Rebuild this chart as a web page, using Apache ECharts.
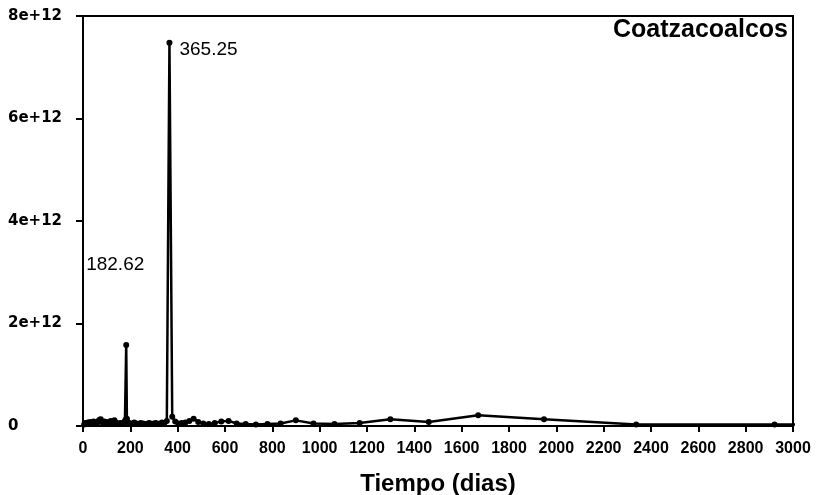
<!DOCTYPE html>
<html>
<head>
<meta charset="utf-8">
<script src="https://cdn.jsdelivr.net/npm/echarts@6/dist/echarts.min.js"></script>
<style>
html,body{margin:0;padding:0;background:#fff;}
#chart{width:818px;height:495px;}
</style>
</head>
<body>
<div id="chart"></div>
<script>
// Period (days) and periodogram power (units of 1e12)
const periods = [5, 10, 15, 20, 25, 30, 35, 40, 45, 50, 55, 60, 65, 70, 75, 80, 85, 90, 95,
  97.4, 101.6, 106.3, 111.3, 116.9, 121.75, 127.0, 132.8, 139.1, 146.1, 151.8, 157.9, 164.6, 171.9, 177.1, 179.8,
  182.62, 185.5, 188.5, 194.8, 201.5, 208.7, 216.4, 224.8, 233.8, 243.5, 254.1, 265.6, 278.3, 285.1, 292.2, 299.7,
  307.6, 315.9, 324.7, 333.9, 343.8, 354.2, 365.25, 377.0, 389.6, 403.0, 417.4, 432.9, 449.5, 467.5, 487.0, 508.2,
  531.3, 556.6, 584.4, 615.2, 649.3, 687.5, 730.5, 779.2, 834.9, 899.1, 974.0, 1062.5, 1168.8, 1298.7, 1461.0,
  1669.7, 1948.0, 2337.6, 2922.0, 3896.0];
const power = [0.03, 0.06, 0.04, 0.07, 0.05, 0.08, 0.04, 0.06, 0.09, 0.05, 0.07, 0.06, 0.10, 0.12, 0.13, 0.08, 0.06, 0.09, 0.07,
  0.06, 0.08, 0.05, 0.07, 0.10, 0.06, 0.09, 0.11, 0.07, 0.05, 0.04, 0.06, 0.05, 0.07, 0.09, 0.12,
  1.58, 0.14, 0.08, 0.06, 0.04, 0.05, 0.07, 0.05, 0.04, 0.06, 0.05, 0.04, 0.06, 0.05, 0.04, 0.05,
  0.06, 0.04, 0.05, 0.07, 0.06, 0.10, 7.48, 0.18, 0.09, 0.05, 0.06, 0.07, 0.10, 0.14, 0.08, 0.05,
  0.04, 0.06, 0.09, 0.10, 0.05, 0.04, 0.03, 0.04, 0.05, 0.11, 0.05, 0.04, 0.06, 0.13, 0.08,
  0.21, 0.13, 0.03, 0.03, 0.01];
const peakPeriods = [182.62, 365.25];
const peakTexts = ['182.62', '365.25'];
const xTicks = {min: 0, max: 3000, interval: 200};
const yTicks = {min: 0, max: 8e12, interval: 2e12};
const titleText = 'Coatzacoalcos';
const xName = 'Tiempo (dias)';

const data = periods.map((p, i) => {
  const item = {value: [p, power[i] * 1e12]};
  const pi = peakPeriods.indexOf(p);
  if (pi === 0) {
    item.label = {show: true, position: 'top', offset: [-11, -63], formatter: peakTexts[pi]};
  } else if (pi === 1) {
    item.label = {show: true, position: 'right', distance: 7, offset: [0, 7], formatter: peakTexts[pi]};
  }
  return item;
});

const chart = echarts.init(document.getElementById('chart'), null, {renderer: 'canvas'});
chart.setOption({
  animation: false,
  backgroundColor: '#fff',
  title: {
    text: titleText, right: 30, top: 18, padding: 0,
    textStyle: {fontFamily: 'Liberation Sans', fontWeight: 'bold', fontSize: 25, color: '#000'}
  },
  grid: {left: 83, right: 25, top: 16, bottom: 69, show: true, borderColor: '#000', borderWidth: 2,
    backgroundColor: 'transparent', outerBoundsMode: 'none', containLabel: false},
  xAxis: {
    type: 'value', min: xTicks.min, max: xTicks.max, interval: xTicks.interval,
    name: xName, nameLocation: 'middle', nameGap: 46,
    nameTextStyle: {fontFamily: 'Liberation Sans', fontWeight: 'bold', fontSize: 24, color: '#000'},
    axisLine: {show: true, lineStyle: {color: '#000', width: 2}},
    axisTick: {show: true, inside: false, length: 6, lineStyle: {color: '#000', width: 2}},
    axisLabel: {margin: 15, fontFamily: 'Liberation Sans', fontWeight: 'bold', fontSize: 16, color: '#000',
      formatter: v => String(v)},
    splitLine: {show: false}
  },
  yAxis: {
    type: 'value', min: yTicks.min, max: yTicks.max, interval: yTicks.interval,
    axisLine: {show: true, lineStyle: {color: '#000', width: 2}},
    axisTick: {show: true, inside: false, length: 7, lineStyle: {color: '#000', width: 2}},
    axisLabel: {
      margin: 75, align: 'left', fontFamily: 'DejaVu Sans', fontWeight: 'bold', fontSize: 15, color: '#000',
      formatter: v => v === 0 ? '0' : (v / 1e12) + 'e+12'
    },
    splitLine: {show: false}
  },
  series: [{
    type: 'line', data: data, clip: true,
    symbol: 'circle', symbolSize: 6, showSymbol: true,
    lineStyle: {color: '#000', width: 2.5},
    itemStyle: {color: '#000'},
    label: {color: '#000', fontFamily: 'Liberation Sans', fontSize: 19}
  }]
});
</script>
</body>
</html>
